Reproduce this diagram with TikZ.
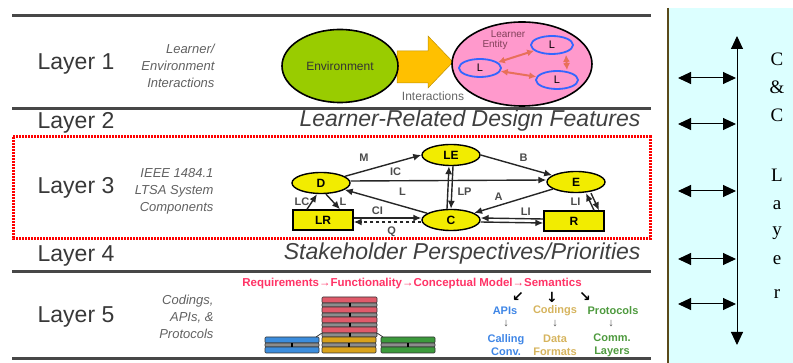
\documentclass[tikz,border=0pt]{standalone}
\usepackage{fontspec}
\setmainfont{Liberation Sans}
\newfontfamily\ccfont{Liberation Serif}
\newfontfamily\arrowfont{DejaVu Sans}
\usetikzlibrary{arrows.meta,calc,positioning,shapes.geometric}

\definecolor{envgreen}{HTML}{99CC00}
\definecolor{arrowgold}{HTML}{FFC000}
\definecolor{entitypink}{HTML}{FF99CC}
\definecolor{lblue}{HTML}{3366FF}
\definecolor{linkred}{HTML}{E8705A}
\definecolor{entitytext}{HTML}{82405A}
\definecolor{compyellow}{HTML}{F2EC00}
\definecolor{reqred}{HTML}{FF3366}
\definecolor{apiblue}{HTML}{3F86E6}
\definecolor{codtan}{HTML}{D6B45E}
\definecolor{protgreen}{HTML}{4E9A3E}
\definecolor{barpink}{HTML}{E05A6A}
\definecolor{barblue}{HTML}{3C8DDD}
\definecolor{barorange}{HTML}{D9A21B}
\definecolor{bargreen}{HTML}{3C9A3C}
\definecolor{bargrey}{HTML}{8C8C8C}
\definecolor{panelcyan}{HTML}{DCFFFF}
\definecolor{panelline}{HTML}{5A4A1A}

\begin{document}
\begin{tikzpicture}[x=1pt, y=-1pt,
    >={Latex[length=8pt,width=7pt]},
    layerlabel/.style={font=\fontsize{23}{23}\selectfont, text=black!78},
    layernote/.style={font=\fontsize{13}{17}\selectfont\itshape, text=black!62, align=right, anchor=east},
    banner/.style={font=\fontsize{23}{23}\selectfont\itshape, text=black!75, anchor=east},
    sepline/.style={line width=3pt, draw=black!72},
    comp/.style={ellipse, draw, line width=1.4pt, fill=compyellow, minimum width=58pt, minimum height=21pt, inner sep=0pt, font=\bfseries\fontsize{12}{12}\selectfont},
    repo/.style={rectangle, draw, line width=1.4pt, fill=compyellow, minimum width=60pt, minimum height=20pt, inner sep=0pt, font=\bfseries\fontsize{12}{12}\selectfont},
    flow/.style={->, line width=1.4pt, draw=black!85},
    flowlabel/.style={font=\bfseries\fontsize{11}{11}\selectfont, text=black!70, inner sep=1pt},
    learner/.style={ellipse, draw=lblue, line width=1.8pt, minimum width=42pt, minimum height=18pt, inner sep=0pt, font=\fontsize{11}{11}\selectfont},
    link/.style={{Latex[length=7pt,width=7pt]}-{Latex[length=7pt,width=7pt]}, line width=2pt, draw=linkred},
    ccarrow/.style={{Triangle[length=13pt,width=12pt]}-{Triangle[length=13pt,width=12pt]}, line width=1pt},
    barline/.style={draw=black!80, line width=0.6pt, rounded corners=1pt},
    apilabel/.style={font=\bfseries\fontsize{11}{13}\selectfont, align=center}]

\useasboundingbox (0,0) rectangle (793,363);

% C&C panel
\fill[panelcyan] (668,8) rectangle (793,363);
\draw[panelline, line width=1.5pt] (668,8) -- (668,363);

% layer rules and the highlighted layer
\foreach \yy in {15.5,108.5,271.5,358.5}
  \draw[sepline] (12,\yy) -- (651,\yy);
\draw[red, line width=3pt, dash pattern=on 1.6pt off 1.4pt] (13,137) rectangle (650,239);

% layer names
\node[layerlabel] (lay1) at (76,64) {Layer 1};
\node[layerlabel] (lay2) at (76,123) {Layer 2};
\node[layerlabel] (lay3) at (76,188) {Layer 3};
\node[layerlabel] (lay4) at (76,256) {Layer 4};
\node[layerlabel] (lay5) at (76,317) {Layer 5};

\node[layernote] (note1) at (218,66) {Learner/\\Environment\\Interactions};
\node[layernote] (note3) at (217,191) {IEEE 1484.1\\LTSA System\\Components};
\node[layernote] (note5) at (217,317) {Codings,\\APIs, \&\\Protocols};

\node[banner] (feat) at (644,121) {Learner-Related Design Features};
\node[banner] (stake) at (644,254) {Stakeholder Perspectives/Priorities};

% Layer 1
\fill[arrowgold, draw=arrowgold!75!black, line width=0.5pt]
  (397,51) -- (428,51) -- (428,36) -- (453,62) -- (428,88) -- (428,83) -- (397,83) -- cycle;
\node[ellipse, draw, line width=1.6pt, fill=envgreen, minimum width=116pt, minimum height=73pt,
  font=\fontsize{12}{12}\selectfont, text=black!80] (env) at (340,66) {Environment};
\node[ellipse, draw, line width=1.6pt, fill=entitypink, minimum width=140pt, minimum height=84pt] (entity) at (522,64) {};
\node[font=\fontsize{12}{12}\selectfont, text=black!60] (interact) at (433,96) {Interactions};
\node[font=\fontsize{10}{10}\selectfont, text=entitytext] (entlbl1) at (508,34) {Learner};
\node[font=\fontsize{10}{10}\selectfont, text=entitytext] (entlbl2) at (495,45) {Entity};

\node[learner] (la) at (480,68) {L};
\node[learner] (lb) at (552,45) {L};
\node[learner] (lc) at (557,80) {L};
\draw[link] (la) -- (lb);
\draw[link] (la) -- (lc);
\draw[link] ([xshift=14pt]lb.south) -- ([xshift=10pt]lc.north);

% Layer 3
\node[comp] (D) at (321,183) {D};
\node[comp] (LE) at (451,155) {LE};
\node[comp] (E) at (576,182) {E};
\node[comp] (C) at (451,220) {C};
\node[repo] (LR) at (323,220) {LR};
\node[repo] (R) at (574,221) {R};

\draw[flow] (D) -- (LE.west) node[flowlabel, pos=0.25, above=8pt] {M};
\draw[flow] (LE.east) -- (E) node[flowlabel, pos=0.6, above=4pt] {B};
\draw[flow] ([yshift=2pt]D.east) -- ([yshift=2pt]E.west) node[flowlabel, pos=0.23, above=3pt] {IC};
\draw[flow] (C) -- (D) node[flowlabel, pos=0.3, above=9pt] {L};
\draw[flow] (E) -- (C) node[flowlabel, pos=0.6, above left=2pt] {A};
\draw[flow] ([xshift=-4pt]C.north) -- ([xshift=-2pt]LE.south);
\draw[flow] ([xshift=2pt]LE.south) -- ([xshift=0pt]C.north) node[flowlabel, pos=0.6, right=4pt] {LP};
\draw[flow] ([yshift=2pt]LR.east) -- ([yshift=2pt]C.west) node[flowlabel, pos=0.35, above=2pt] {CI};
\draw[flow, dashed] ([yshift=-2pt]C.west) -- ([yshift=-2pt]LR.east) node[flowlabel, pos=0.44, below=3pt] {Q};
\draw[flow] ([yshift=2pt]R.west) -- ([yshift=2pt]C.east) node[flowlabel, pos=0.28, above=2pt] {LI};
\draw[flow] ([yshift=-2pt]C.east) -- ([yshift=-2pt]R.west);
\draw[flow] ([xshift=-16pt]LR.north) -- ([xshift=-4pt]D.south) node[flowlabel, pos=0.5, left=1pt] {LC};
\draw[flow] ([xshift=5pt]D.south) -- ([xshift=17pt]LR.north) node[flowlabel, pos=0.5, right=5pt] {L};
\draw[flow] ([xshift=20pt]R.north) -- ([xshift=10pt]E.south) node[flowlabel, pos=0.5, left=8pt] {LI};
\draw[flow] ([xshift=15pt]E.south) -- ([xshift=25pt]R.north);

% Layer 5
\node[font=\bfseries\fontsize{11.5}{11.5}\selectfont, text=reqred] (req) at (412,284)
  {Requirements→Functionality→Conceptual Model→Semantics};
\node[font=\arrowfont\bfseries\fontsize{14}{14}\selectfont] (sw) at (518,297) {↙};
\node[font=\arrowfont\bfseries\fontsize{14}{14}\selectfont] (ss) at (552,297) {↓};
\node[font=\arrowfont\bfseries\fontsize{14}{14}\selectfont] (se) at (585,297) {↘};
\node[apilabel, text=apiblue] (apis) at (505,311) {APIs};
\node[apilabel, text=codtan] (codings) at (555,311) {Codings};
\node[apilabel, text=protgreen] (protocols) at (613,311) {Protocols};
\node[font=\fontsize{11}{11}\selectfont, text=black!70] (d1) at (506,324) {↓};
\node[font=\fontsize{11}{11}\selectfont, text=black!70] (d2) at (555,324) {↓};
\node[font=\fontsize{11}{11}\selectfont, text=black!70] (d3) at (611,324) {↓};
\node[apilabel, text=apiblue] (calling) at (506,345) {Calling\\Conv.};
\node[apilabel, text=codtan] (formats) at (555,345) {Data\\Formats};
\node[apilabel, text=protgreen] (layers) at (612,345) {Comm.\\Layers};

% protocol stack
\foreach \k in {0,...,3} {
  \draw[barline, fill=barpink] (322,{297+10*\k}) rectangle (377,{303+10*\k});
  \draw[barline, fill=bargrey] (322,{303+10*\k}) rectangle (377,{307+10*\k});
  \fill[black] (348.5,{303+10*\k}) rectangle (350.5,{307+10*\k});
}
\foreach \xx/\cc in {265/barblue, 322/barorange, 381/bargreen} {
  \draw[barline, fill=\cc] (\xx,337) rectangle ({\xx+54},343);
  \draw[barline, fill=bargrey] (\xx,343) rectangle ({\xx+54},347);
  \draw[barline, fill=\cc] (\xx,347) rectangle ({\xx+54},353);
  \fill[black] ({\xx+26},343) rectangle ({\xx+28},347);
}
\draw[black!80, line width=0.8pt] (322,333) -- (316,337);
\draw[black!80, line width=0.8pt] (377,333) -- (383,337);

% C&C layer
\coordinate (cctop) at (737,36);
\coordinate (ccbot) at (737,345);
\draw[ccarrow] (cctop) -- (ccbot);
\foreach \yy [count=\i] in {78,124,191,259,304} {
  \coordinate (ccl\i) at (678,\yy);
  \coordinate (ccr\i) at (736,\yy);
  \draw[ccarrow] (ccl\i) -- (ccr\i);
}
\foreach \ch/\yy [count=\i] in {C/66, \&/94, C/122, L/182, a/210, y/236, e/265, r/299}
  \node[font=\ccfont\fontsize{19}{19}\selectfont, anchor=base, inner sep=0pt] (cc\i) at (777,\yy) {\ch};

\end{tikzpicture}
\end{document}
